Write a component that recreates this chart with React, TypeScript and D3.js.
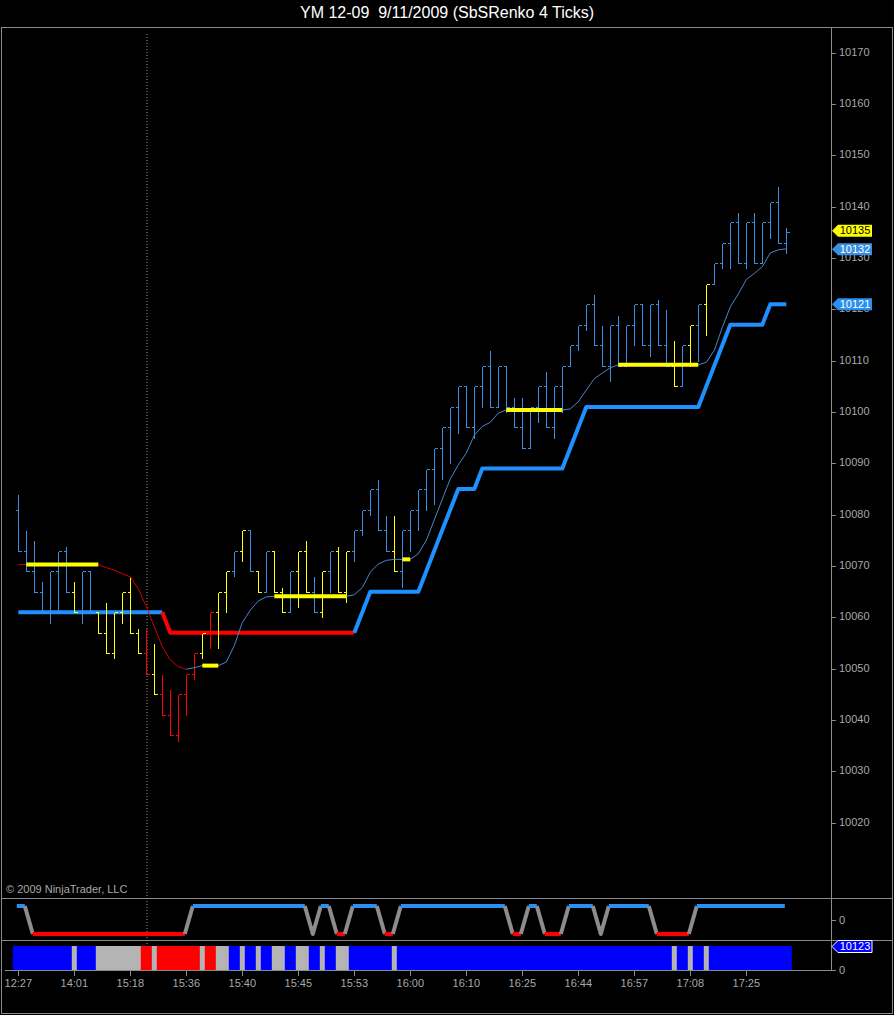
import React from 'react';
import * as d3 from 'd3';

const W = 894;
const H = 1015;
const TITLE = 'YM 12-09  9/11/2009 (SbSRenko 4 Ticks)';
const FONT = '"Liberation Sans", Arial, sans-serif';

// renko bars (prices)
const opens = [
  10081, 10073, 10069, 10065, 10061, 10069, 10073, 10065, 10061, 10069,
  10061, 10057, 10053, 10061, 10065, 10057, 10053, 10049, 10045, 10041,
  10037, 10045, 10049, 10053, 10057, 10061, 10065, 10069, 10073, 10077,
  10069, 10065, 10073, 10065, 10061, 10069, 10073, 10065, 10061, 10069,
  10073, 10065, 10073, 10077, 10081, 10085, 10077, 10073, 10069, 10077,
  10081, 10085, 10089, 10093, 10097, 10101, 10105, 10097, 10105, 10109,
  10101, 10109, 10101, 10097, 10093, 10101, 10105, 10097, 10105, 10109,
  10113, 10117, 10121, 10113, 10109, 10117, 10109, 10117, 10121, 10113,
  10121, 10113, 10109, 10105, 10113, 10117, 10121, 10125, 10129, 10133,
  10137, 10129, 10137, 10129, 10137, 10141, 10133,
];
const highs = [
  10084, 10077, 10075, 10067, 10069, 10073, 10074, 10067, 10069, 10069,
  10061, 10063, 10061, 10065, 10068, 10058, 10058, 10055, 10049, 10046,
  10045, 10049, 10053, 10057, 10061, 10065, 10069, 10073, 10077, 10077,
  10069, 10073, 10073, 10066, 10069, 10073, 10075, 10068, 10069, 10073,
  10074, 10073, 10077, 10081, 10085, 10087, 10080, 10080, 10077, 10081,
  10085, 10089, 10093, 10097, 10101, 10105, 10105, 10105, 10109, 10112,
  10109, 10109, 10103, 10103, 10101, 10105, 10108, 10105, 10109, 10113,
  10117, 10121, 10123, 10117, 10117, 10119, 10117, 10121, 10121, 10121,
  10122, 10120, 10114, 10113, 10117, 10121, 10125, 10129, 10133, 10137,
  10139, 10137, 10139, 10137, 10141, 10144, 10136,
];
const lows = [
  10073, 10069, 10065, 10061, 10059, 10061, 10065, 10061, 10059, 10061,
  10057, 10053, 10052, 10059, 10057, 10053, 10049, 10045, 10041, 10037,
  10036, 10041, 10048, 10052, 10054, 10054, 10061, 10068, 10071, 10069,
  10065, 10065, 10065, 10061, 10061, 10062, 10065, 10061, 10060, 10065,
  10065, 10063, 10071, 10076, 10080, 10077, 10073, 10069, 10066, 10073,
  10077, 10081, 10082, 10087, 10090, 10096, 10097, 10095, 10101, 10101,
  10101, 10100, 10097, 10093, 10093, 10098, 10097, 10095, 10100, 10109,
  10112, 10116, 10113, 10109, 10106, 10109, 10109, 10113, 10113, 10111,
  10113, 10109, 10105, 10105, 10109, 10110, 10115, 10125, 10128, 10128,
  10129, 10128, 10129, 10129, 10134, 10133, 10131,
];
const closes = [
  10073, 10069, 10065, 10061, 10069, 10073, 10065, 10061, 10069, 10061,
  10057, 10053, 10061, 10065, 10057, 10053, 10049, 10045, 10041, 10037,
  10045, 10049, 10053, 10057, 10061, 10065, 10069, 10073, 10077, 10069,
  10065, 10073, 10065, 10061, 10069, 10073, 10065, 10061, 10069, 10073,
  10065, 10073, 10077, 10081, 10085, 10077, 10073, 10069, 10077, 10081,
  10085, 10089, 10093, 10097, 10101, 10105, 10097, 10105, 10109, 10101,
  10109, 10101, 10097, 10093, 10101, 10105, 10097, 10105, 10109, 10113,
  10117, 10121, 10113, 10109, 10117, 10109, 10117, 10121, 10113, 10121,
  10113, 10109, 10105, 10113, 10117, 10121, 10125, 10129, 10133, 10137,
  10129, 10137, 10129, 10137, 10141, 10133, 10135,
];
// bar state: B = up (blue), Y = neutral (yellow / grey), R = down (red)
const barState = [
  'BBBBBBB', 'Y', 'BB', 'YYYYYY', 'R', 'Y', 'RRRRR', 'Y', 'R', 'YY',
  'B', 'Y', 'B', 'Y', 'B', 'YY', 'B', 'YY', 'B', 'Y', 'B', 'YY',
  'BBBBB', 'Y',
  'BBBBBBBBBBBBBBBBBBBBBBBBBBBBBBBBBB',
  'Y', 'B', 'Y', 'B', 'Y',
  'BBBBBBBBBB',
].join('').split('');

// smoothed average (thin line)
const maValues = [
  10070.3, 10070.3, 10070.3, 10070.3, 10070.3, 10070.3, 10070.3, 10070.3, 10070.3, 10070.3,
  10070.3, 10069.7, 10069.2, 10068.5, 10067.9, 10065.6, 10062.1, 10058.2, 10054.3, 10051.7,
  10050.4, 10049.9, 10050.2, 10050.6, 10050.6, 10050.6, 10051.3, 10054.5, 10059.0, 10061.4,
  10063.2, 10064.0, 10064.1, 10064.1, 10064.1, 10064.1, 10064.1, 10064.1, 10064.1, 10064.1,
  10064.1, 10064.1, 10064.4, 10065.8, 10068.8, 10070.4, 10071.1, 10071.3, 10071.3, 10071.3,
  10072.4, 10075.0, 10079.0, 10083.0, 10087.0, 10089.7, 10092.0, 10095.5, 10097.2, 10098.0,
  10099.8, 10100.4, 10100.4, 10100.4, 10100.4, 10100.4, 10100.4, 10100.4, 10100.4, 10100.6,
  10102.0, 10104.3, 10106.5, 10107.6, 10108.6, 10109.2, 10109.2, 10109.2, 10109.2, 10109.2,
  10109.2, 10109.2, 10109.2, 10109.2, 10109.2, 10109.2, 10109.7, 10112.0, 10116.5, 10120.5,
  10123.0, 10125.8, 10127.0, 10128.3, 10131.0, 10131.6, 10131.8,
];
const maDir = ['RRRRRRRRRRRRRRRRRRRRRR', 'B'.padEnd(75, 'B')].join('').split('');

// flat stretches of the average, drawn thick yellow
const flatFrom = [1, 23, 32, 48, 61, 75];
const flatTo = [10, 25, 41, 49, 68, 85];

// trailing stop (thick stepped line)
const stopValues = [
  10061, 10061, 10061, 10061, 10061, 10061, 10061, 10061, 10061, 10061,
  10061, 10061, 10061, 10061, 10061, 10061, 10061, 10061, 10061, 10057,
  10057, 10057, 10057, 10057, 10057, 10057, 10057, 10057, 10057, 10057,
  10057, 10057, 10057, 10057, 10057, 10057, 10057, 10057, 10057, 10057,
  10057, 10057, 10057, 10061, 10065, 10065, 10065, 10065, 10065, 10065,
  10065, 10069, 10073, 10077, 10081, 10085, 10085, 10085, 10089, 10089,
  10089, 10089, 10089, 10089, 10089, 10089, 10089, 10089, 10089, 10093,
  10097, 10101, 10101, 10101, 10101, 10101, 10101, 10101, 10101, 10101,
  10101, 10101, 10101, 10101, 10101, 10101, 10105, 10109, 10113, 10117,
  10117, 10117, 10117, 10117, 10121, 10121, 10121,
];
const stopDir = [
  'BBBBBBBBBBBBBBBBBBB', 'RRRRRRRRRRRRRRRRRRRRRRRR',
  'BBBBBBBBBBBBBBBBBBBBBBBBBBBBBBBBBBBBBBBBBBBBBBBBBBBBBB',
].join('').split('');

// trend indicator panel: H = +1, L = -1
const trendState = [
  'HH', 'LLLLLLLLLLLLLLLLLLLL', 'HHHHHHHHHHHHHHH', 'L', 'HH', 'LL', 'HHHH', 'LL',
  'HHHHHHHHHHHHHH', 'LL', 'HH', 'LLL', 'HHHH', 'L', 'HHHHHH', 'LLLLL', 'HHHHHHHHHHHH',
].join('').split('');

const priceTicks = [10020, 10030, 10040, 10050, 10060, 10070, 10080, 10090, 10100, 10110, 10120, 10130, 10140, 10150, 10160, 10170];
const timeLabelBars = [0, 7, 14, 21, 28, 35, 42, 49, 56, 63, 70, 77, 84, 91];
const timeLabels = ['12:27', '14:01', '15:18', '15:36', '15:40', '15:45', '15:53', '16:00', '16:10', '16:25', '16:44', '16:57', '17:08', '17:25'];

const lastPrice = 10135;
const lastMa = 10132;
const lastStop = 10121;
const panel2Value = '10123';
const cursorBar = 16;

const BAR_COL: Record<string, string> = { B: '#3a8fe0', Y: '#ffff00', R: '#ff0000' };
const BLOCK_COL: Record<string, string> = { B: '#0000ff', Y: '#b4b4b4', R: '#ff0000' };
const GRID = '#8a8a8a';
const LABEL = '#a8a8a8';

type Run = { color: string; idx: number[] };

// group segments (i-1 -> i) of the same colour into runs
function runs(n: number, colorOf: (i: number) => string): Run[] {
  const out: Run[] = [];
  for (let i = 1; i < n; i++) {
    const c = colorOf(i);
    const last = out[out.length - 1];
    if (last && last.color === c) last.idx.push(i);
    else out.push({ color: c, idx: [i - 1, i] });
  }
  return out;
}

function Flag({ yc, fill, stroke, text, textFill }: { yc: number; fill: string; stroke?: string; text: string; textFill: string }) {
  const pts = [[832, yc], [838, yc - 6], [872, yc - 6], [872, yc + 6], [838, yc + 6]]
    .map((p) => p.join(',')).join(' ');
  return (
    <g>
      <polygon points={pts} fill={fill} stroke={stroke || 'none'} strokeWidth={1} />
      <text x={855} y={yc + 0.5} fill={textFill} fontSize={11} fontFamily={FONT}
        textAnchor="middle" dominantBaseline="middle">{text}</text>
    </g>
  );
}

export default function App() {
  const n = closes.length;
  const x = d3.scaleLinear().domain([0, 96]).range([18.3, 786.3]);
  const y = d3.scaleLinear().domain([10020, 10170]).range([822.7, 52.7]);
  const yInd = d3.scaleLinear().domain([-1, 1]).range([934, 906]);
  const px = (i: number) => Math.round(x(i)) + 0.5;
  const py = (v: number) => Math.round(y(v)) + 0.5;

  const priceLine = d3.line<number>().x((i) => x(i)).y((i) => y(stopValues[i]));
  const maLine = d3.line<number>().x((i) => x(i)).y((i) => y(maValues[i]));
  const trendVal = (i: number) => (trendState[i] === 'H' ? 1 : -1);
  const trendLine = d3.line<number>().x((i) => x(i) - 1.5).y((i) => yInd(trendVal(i)));

  const stopRuns = runs(n, (i) => (stopDir[i] === 'R' ? '#ff0000' : '#1e90ff'));
  const maRuns = runs(n, (i) => (maDir[i] === 'R' ? '#d00000' : '#4a86c8'));
  const trendRuns = runs(n, (i) => {
    const a = trendState[i - 1];
    const b = trendState[i];
    if (a === 'H' && b === 'H') return '#2a8ff0';
    if (a === 'L' && b === 'L') return '#ff0000';
    return '#8c8c8c';
  });

  const idx = d3.range(n);
  const greyBlocks = idx.filter((i) => barState[i] === 'Y');
  const colBlocks = idx.filter((i) => barState[i] !== 'Y');

  return (
    <svg width={W} height={H} style={{ position: 'absolute', left: 0, top: 0, display: 'block', background: '#000' }}>
      <rect x={0} y={0} width={W} height={H} fill="#000" />
      <text x={447} y={14} fill="#fff" fontSize={16} fontFamily={FONT} textAnchor="middle"
        dominantBaseline="middle" style={{ whiteSpace: 'pre' }}>{TITLE}</text>

      {/* frame and panel separators */}
      <rect x={1.5} y={27.5} width={891} height={986} fill="none" stroke={GRID} />
      <line x1={1} x2={893} y1={898.5} y2={898.5} stroke={GRID} />
      <line x1={1} x2={893} y1={940.5} y2={940.5} stroke={GRID} />
      <line x1={831.5} x2={831.5} y1={27} y2={971} stroke={GRID} />

      {/* price axis */}
      {priceTicks.map((t) => (
        <g key={t}>
          <line x1={831} x2={836} y1={py(t)} y2={py(t)} stroke={GRID} />
          <text x={839} y={py(t)} fill={LABEL} fontSize={11} fontFamily={FONT} dominantBaseline="middle">{t}</text>
        </g>
      ))}

      {/* cursor */}
      <line x1={px(cursorBar) + 0.5} x2={px(cursorBar) + 0.5} y1={34} y2={970} stroke="#9a9a9a" strokeDasharray="1,2" />

      {/* trailing stop */}
      {stopRuns.map((r, k) => (
        <path key={k} d={priceLine(r.idx) || ''} fill="none" stroke={r.color} strokeWidth={4} strokeLinejoin="round" />
      ))}

      {/* bars */}
      {idx.map((i) => {
        const c = BAR_COL[barState[i]];
        const bx = px(i);
        return (
          <g key={i} stroke={c} strokeWidth={1} shapeRendering="crispEdges">
            <line x1={bx} x2={bx} y1={py(highs[i])} y2={py(lows[i]) + 0.5} />
            <line x1={bx - 3} x2={bx} y1={py(opens[i])} y2={py(opens[i])} />
            <line x1={bx} x2={bx + 3} y1={py(closes[i])} y2={py(closes[i])} />
          </g>
        );
      })}

      {/* average */}
      {maRuns.map((r, k) => (
        <path key={k} d={maLine(r.idx) || ''} fill="none" stroke={r.color} strokeWidth={1} />
      ))}
      {flatFrom.map((f, k) => (
        <line key={k} x1={x(f)} x2={x(flatTo[k])} y1={y(maValues[f])} y2={y(maValues[f])}
          stroke="#ffff00" strokeWidth={4} />
      ))}

      <text x={6} y={893} fill={LABEL} fontSize={11} fontFamily={FONT}>© 2009 NinjaTrader, LLC</text>

      {/* flags */}
      <Flag yc={y(lastPrice) - 1.5} fill="#ffff00" text={String(lastPrice)} textFill="#000" />
      <Flag yc={y(lastMa) + 1.5} fill="#3a8fe0" text={String(lastMa)} textFill="#fff" />
      <Flag yc={y(lastStop)} fill="#2a8ff0" text={String(lastStop)} textFill="#fff" />

      {/* trend panel */}
      {trendRuns.map((r, k) => (
        <path key={k} d={trendLine(r.idx) || ''} fill="none" stroke={r.color} strokeWidth={4} strokeLinejoin="round" />
      ))}
      <line x1={831} x2={836} y1={920.5} y2={920.5} stroke={GRID} />
      <text x={839} y={921} fill={LABEL} fontSize={11} fontFamily={FONT} dominantBaseline="middle">0</text>

      {/* state blocks panel */}
      {greyBlocks.map((i) => (
        <rect key={'g' + i} x={x(i) - 5.5} y={946} width={11} height={24} fill={BLOCK_COL.Y} />
      ))}
      {colBlocks.map((i) => (
        <rect key={'c' + i} x={x(i) - 5.5} y={946} width={11} height={24} fill={BLOCK_COL[barState[i]]} />
      ))}
      <Flag yc={946.5} fill="#0000ff" stroke="#ffffff" text={panel2Value} textFill="#fff" />
      <line x1={831} x2={836} y1={970.5} y2={970.5} stroke={GRID} />
      <text x={839} y={971} fill={LABEL} fontSize={11} fontFamily={FONT} dominantBaseline="middle">0</text>

      {/* time axis */}
      <line x1={5} x2={831} y1={970.5} y2={970.5} stroke={GRID} />
      {timeLabelBars.map((b, k) => (
        <g key={b}>
          <line x1={px(b)} x2={px(b)} y1={971} y2={976} stroke={GRID} />
          <text x={x(b)} y={984} fill={LABEL} fontSize={11} fontFamily={FONT} textAnchor="middle"
            dominantBaseline="middle">{timeLabels[k]}</text>
        </g>
      ))}
    </svg>
  );
}
